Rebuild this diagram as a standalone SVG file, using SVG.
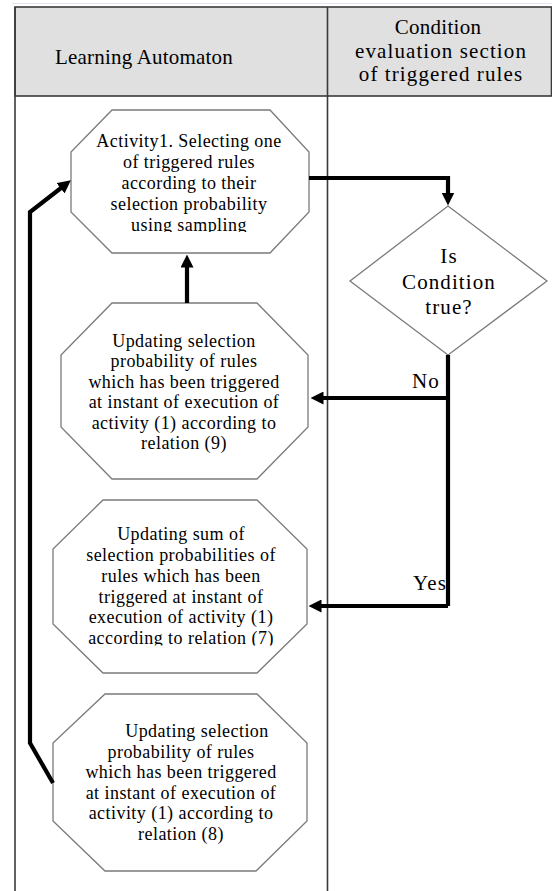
<svg xmlns="http://www.w3.org/2000/svg" width="552" height="891" viewBox="0 0 552 891">
<style>
.tbl{fill:none;stroke:#3a3a3a;stroke-width:1.6}
.oct{fill:#ffffff;stroke:#7a7a7a;stroke-width:1.3}
.t{font-family:'Liberation Serif','Times New Roman',serif;font-size:18px;letter-spacing:0.45px;fill:#000;text-anchor:middle}
.h{font-family:'Liberation Serif','Times New Roman',serif;font-size:21px;letter-spacing:1.1px;fill:#000;text-anchor:middle}
.d{font-family:'Liberation Serif','Times New Roman',serif;font-size:21px;letter-spacing:1.1px;fill:#000;text-anchor:middle}
.c{fill:none;stroke:#000;stroke-width:4.2;stroke-linejoin:miter}
</style>
<defs>
<marker id="ah" viewBox="0 0 13 13" markerWidth="13" markerHeight="13" markerUnits="userSpaceOnUse" refX="0.5" refY="6.5" orient="auto">
<path d="M0,0 L13,6.5 L0,13 z" fill="#000"/>
</marker>
<clipPath id="clip1"><rect x="60" y="110" width="260" height="122"/></clipPath>
<clipPath id="clip3"><rect x="50" y="500" width="260" height="145.5"/></clipPath>
</defs>
<rect width="552" height="891" fill="#ffffff"/>
<line x1="12" y1="3.5" x2="552" y2="3.5" stroke="#e3e8f2" stroke-width="1"/>
<g id="table">
<rect x="15" y="7" width="536.5" height="89" fill="#e0e0e0" stroke="#3a3a3a" stroke-width="1.6"/>
<line class="tbl" x1="15" y1="7" x2="15" y2="891"/>
<line class="tbl" x1="327.5" y1="7" x2="327.5" y2="891"/>
<text class="h" x="144" y="64" style="letter-spacing:0.2px">Learning Automaton</text>
<text class="h" x="438" y="34" style="letter-spacing:0.3px">Condition</text>
<text class="h" x="441" y="57.5">evaluation section</text>
<text class="h" x="441" y="81">of triggered rules</text>
</g>
<g id="activity1">
<polygon class="oct" points="112,110 270,110 309,152 309,212 270,253 112,253 71,212 71,152"/>
<g clip-path="url(#clip1)">
<text class="t" x="189" y="147">Activity1. Selecting one</text>
<text class="t" x="189" y="168">of triggered rules</text>
<text class="t" x="189" y="189">according to their</text>
<text class="t" x="189" y="210">selection probability</text>
<text class="t" x="189" y="231">using sampling</text>
</g>
</g>
<g id="condition">
<polygon class="oct" points="448,206 547,281 448,355 350,281"/>
<text class="d" x="449" y="263">Is</text>
<text class="d" x="449" y="289">Condition</text>
<text class="d" x="449" y="314">true?</text>
</g>
<g id="update9">
<polygon class="oct" points="112,303 257,303 308,355 308,427 257,479 112,479 61,427 61,355"/>
<text class="t" x="184" y="347">Updating selection</text>
<text class="t" x="184" y="367">probability of rules</text>
<text class="t" x="184" y="387.5">which has been triggered</text>
<text class="t" x="184" y="408">at instant of execution of</text>
<text class="t" x="184" y="428.5">activity (1) according to</text>
<text class="t" x="184" y="449">relation (9)</text>
</g>
<g id="update7">
<polygon class="oct" points="103,500 257,500 307,549 307,624 257,673 103,673 53,624 53,549"/>
<g clip-path="url(#clip3)">
<text class="t" x="181" y="540">Updating sum of</text>
<text class="t" x="181" y="561">selection probabilities of</text>
<text class="t" x="181" y="582">rules which has been</text>
<text class="t" x="181" y="602.5">triggered at instant of</text>
<text class="t" x="181" y="623">execution of activity (1)</text>
<text class="t" x="181" y="643.5">according to relation (7)</text>
</g>
</g>
<g id="update8">
<polygon class="oct" points="105,694 257,694 307,743 307,821 256,871 105,871 53,821 53,743"/>
<text class="t" x="197" y="737">Updating selection</text>
<text class="t" x="181" y="757.5">probability of rules</text>
<text class="t" x="181" y="778">which has been triggered</text>
<text class="t" x="181" y="798.5">at instant of execution of</text>
<text class="t" x="181" y="819">activity (1) according to</text>
<text class="t" x="181" y="839.5">relation (8)</text>
</g>
<g id="connectors">
<path class="c" d="M309,178 L448,178 L448,193" marker-end="url(#ah)"/>
<path class="c" d="M448,355 L448,606"/>
<path class="c" d="M448,398 L323,398" marker-end="url(#ah)"/>
<path class="c" d="M448,606 L321,606" marker-end="url(#ah)"/>
<path class="c" d="M187,303 L187,267" marker-end="url(#ah)"/>
<path class="c" d="M53,783 L30,743 L30,212 L61,188" marker-end="url(#ah)"/>
<text class="d" x="426" y="388">No</text>
<text class="d" x="430" y="590">Yes</text>
</g>
</svg>
